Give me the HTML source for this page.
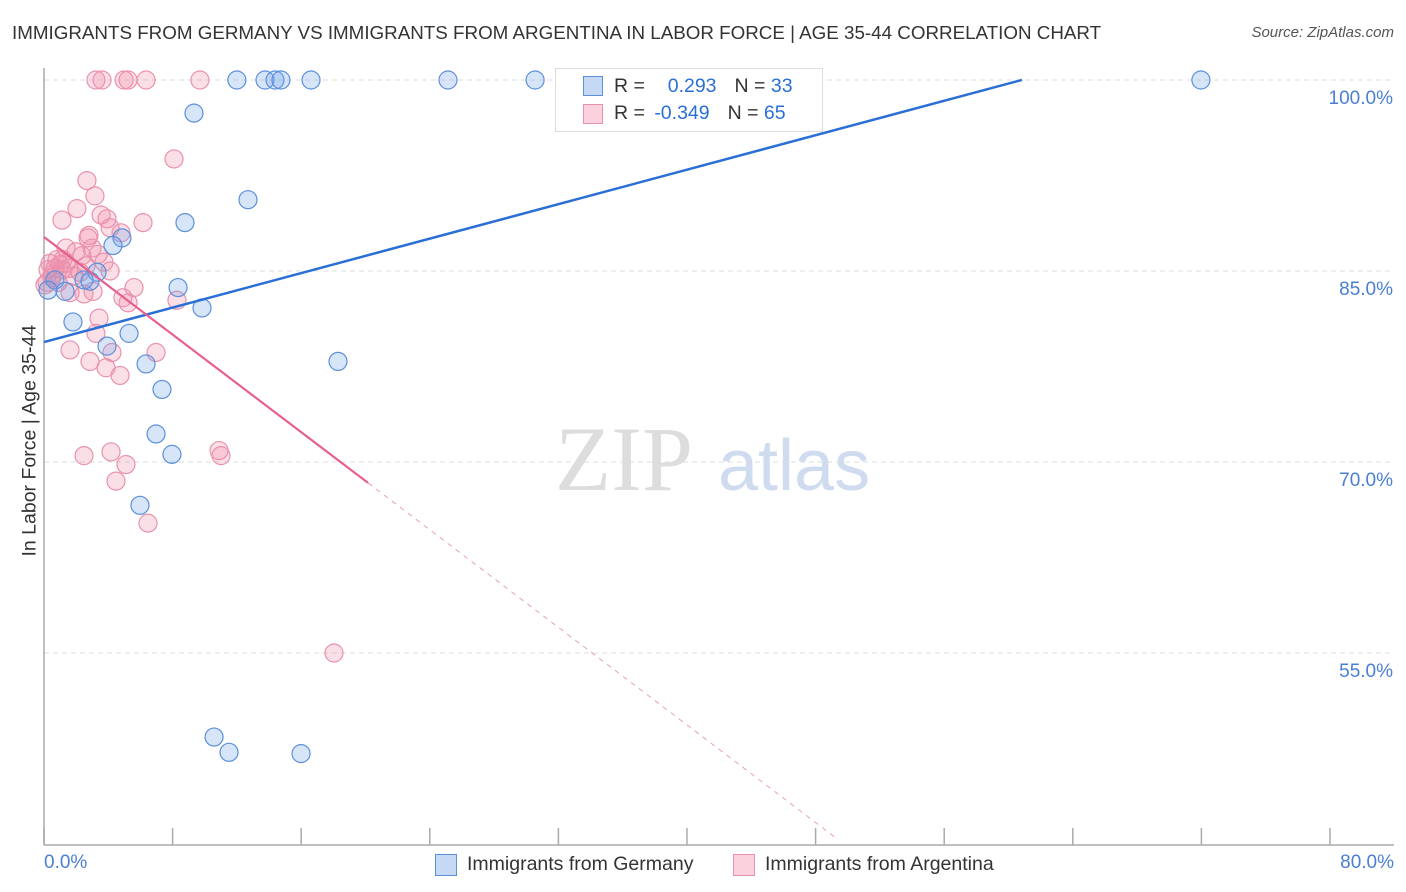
<!DOCTYPE html>
<html><head><meta charset="utf-8"><style>
body{margin:0;background:#fff;font-family:"Liberation Sans",sans-serif;}
#wrap{position:relative;width:1406px;height:892px;overflow:hidden;}
.t{position:absolute;white-space:nowrap;}
</style></head><body>
<div id="wrap">
<div class="t" style="left:12px;top:22px;font-size:18.8px;color:#333;">IMMIGRANTS FROM GERMANY VS IMMIGRANTS FROM ARGENTINA IN LABOR FORCE | AGE 35-44 CORRELATION CHART</div>
<div class="t" style="right:12px;top:24px;font-size:15px;color:#555;font-style:italic;">Source: ZipAtlas.com</div>
<svg id="svg" width="1406" height="892" style="position:absolute;left:0;top:0"></svg>
</div>
<script>
const yTicks=[100,85,70,55];
const yTickLabels=["100.0%","85.0%","70.0%","55.0%"];
const xTicks=[0,8,16,24,32,40,48,56,64,72,80];
const blueX=[12.0,13.75,14.37,14.74,16.61,25.13,30.55,71.97,9.33,12.69,8.77,4.85,4.29,3.30,2.49,2.86,0.68,0.25,1.31,8.34,9.83,1.80,5.29,3.92,6.35,7.34,18.29,6.97,7.96,5.97,10.58,11.51,15.99];
const blueY=[100,100,100,100,100,100,100,100,97.4,90.6,88.8,87.6,87.0,84.9,84.3,84.2,84.3,83.5,83.4,83.7,82.1,81.0,80.1,79.1,77.7,75.7,77.9,72.2,70.6,66.6,48.4,47.2,47.1];
const pinkX=[3.23,3.61,4.98,5.23,6.35,9.70,8.09,2.67,3.17,2.05,1.12,3.55,3.92,6.16,4.11,2.80,4.79,2.74,1.37,1.99,3.36,2.36,0.81,0.37,0.68,1.00,1.56,1.12,0.25,0.50,4.11,2.24,0.19,5.60,3.05,1.62,2.49,4.91,5.23,8.27,3.42,3.23,1.62,4.23,6.97,2.86,3.86,4.73,2.49,4.17,5.10,10.89,11.01,4.48,6.47,18.04,0.06,0.87,1.37,1.87,3.73,2.61,0.50,1.18,2.99];
const pinkY=[100,100,100,100,100,100,93.8,92.1,90.9,89.9,89.0,89.4,89.1,88.8,88.4,87.8,88.0,87.6,86.8,86.5,86.3,86.2,85.9,85.6,85.2,85.5,85.2,85.1,85.1,84.7,85.0,84.9,84.1,83.7,83.4,83.3,83.2,82.9,82.5,82.7,81.3,80.1,78.8,78.6,78.6,77.9,77.4,76.8,70.5,70.8,69.8,70.9,70.5,68.5,65.2,55.0,83.9,84.1,85.6,84.6,85.7,85.4,84.5,85.9,86.8];
const blueTrend=[79.42,0.3384];
const pinkTrend=[87.67,-0.958];
const X0=44,X1=1330,Y0=80,Ypx15=191;
const sx=v=>X0+(v/80)*(X1-X0);
const sy=v=>Y0+(100-v)/15*Ypx15;
const svg=document.getElementById('svg');
const NS='http://www.w3.org/2000/svg';
function mk(tag,a){const e=document.createElementNS(NS,tag);for(const k in a)e.setAttribute(k,a[k]);svg.appendChild(e);return e;}
let w=mk('text',{x:555,y:490,'font-size':92,'font-family':'Liberation Serif',fill:'#ddd'});w.textContent='ZIP';


let w2=mk('text',{x:718,y:490,'font-size':72,'font-family':'Liberation Sans',fill:'#cfdcf0'});w2.textContent='atlas';


yTicks.forEach((t,i)=>{
 const g=mk('line',{x1:X0,x2:1394,y1:sy(t),y2:sy(t),stroke:'#ddd','stroke-dasharray':'5,4'});
 
 
 const l=mk('text',{x:1393,y:sy(t)+24,'text-anchor':'end','font-size':19,fill:'#4a7fd4','font-family':'Liberation Sans'});
 l.textContent=yTickLabels[i];
 
 
});
let ax=mk('line',{x1:X0,x2:X0,y1:68,y2:845,stroke:'#aaa','stroke-width':1.5});


let bx=mk('line',{x1:X0,x2:1394,y1:845,y2:845,stroke:'#aaa','stroke-width':1.5});


xTicks.forEach(t=>{
 const k=mk('line',{x1:sx(t),x2:sx(t),y1:828,y2:845,stroke:'#aaa','stroke-width':1.5});
 
 
});
function pts(xs,ys,fill,stroke,name){
 xs.forEach((x,i)=>{
  const c=mk('circle',{cx:sx(x),cy:sy(ys[i]),r:9,fill:fill,stroke:stroke,'stroke-width':1.2});
  
  
 });
}
pts(pinkX,pinkY,'rgba(242,140,170,0.28)','#e992ad','argentina-point');
pts(blueX,blueY,'rgba(110,160,230,0.28)','#5c8fdc','germany-point');
let bl=mk('line',{x1:sx(0),y1:sy(blueTrend[0]),x2:sx(60.84),y2:sy(blueTrend[0]+blueTrend[1]*60.84),stroke:'#2a6fd6','stroke-width':2.5});


let pl=mk('line',{x1:sx(0),y1:sy(pinkTrend[0]),x2:sx(20.16),y2:sy(pinkTrend[0]+pinkTrend[1]*20.16),stroke:'#e8608f','stroke-width':2.2});


let pd=mk('line',{x1:sx(20.16),y1:sy(pinkTrend[0]+pinkTrend[1]*20.16),x2:sx(49.4),y2:sy(pinkTrend[0]+pinkTrend[1]*49.4),stroke:'#e8a0b8','stroke-width':1,'stroke-dasharray':'5,5'});


</script>
<div class="t" style="left:-70px;top:445px;font-size:19.5px;color:#333;transform:rotate(-90deg);width:200px;text-align:center;">In Labor Force | Age 35-44</div>
<div class="t" style="left:44px;top:852px;font-size:19px;color:#4a7fd4;">0.0%</div>
<div class="t" style="right:12px;top:852px;font-size:19px;color:#4a7fd4;">80.0%</div>
<div style="position:absolute;left:555px;top:68px;width:266px;height:62px;border:1px solid #ddd;background:#fff;font-size:19.5px;color:#333;">
 <div style="position:absolute;left:27px;top:7px;width:18px;height:18px;background:rgba(110,160,230,0.4);border:1px solid #5c8fdc;"></div>
 <div class="t" style="left:58px;top:6px;">R = <span style="color:#2a6fd6;margin-left:12px;">&nbsp;0.293</span><span style="margin-left:18px;">N = </span><span style="color:#2a6fd6;">33</span></div>
 <div style="position:absolute;left:27px;top:35px;width:18px;height:18px;background:rgba(242,140,170,0.4);border:1px solid #e992ad;"></div>
 <div class="t" style="left:58px;top:33px;">R = <span style="color:#2a6fd6;margin-left:4px;">-0.349</span><span style="margin-left:18px;">N = </span><span style="color:#2a6fd6;">65</span></div>
</div>
<div style="position:absolute;left:435px;top:853px;font-size:19.5px;color:#333;">
 <div style="position:absolute;left:0;top:0;width:300px;"><div style="position:absolute;left:0;top:1px;width:20px;height:20px;background:rgba(110,160,230,0.4);border:1px solid #5c8fdc;"></div><span class="t" style="left:32px;top:0;">Immigrants from Germany</span></div>
 <div style="position:absolute;left:298px;top:0;width:300px;"><div style="position:absolute;left:0;top:1px;width:20px;height:20px;background:rgba(242,140,170,0.4);border:1px solid #e992ad;"></div><span class="t" style="left:32px;top:0;">Immigrants from Argentina</span></div>
</div>
</body></html>
